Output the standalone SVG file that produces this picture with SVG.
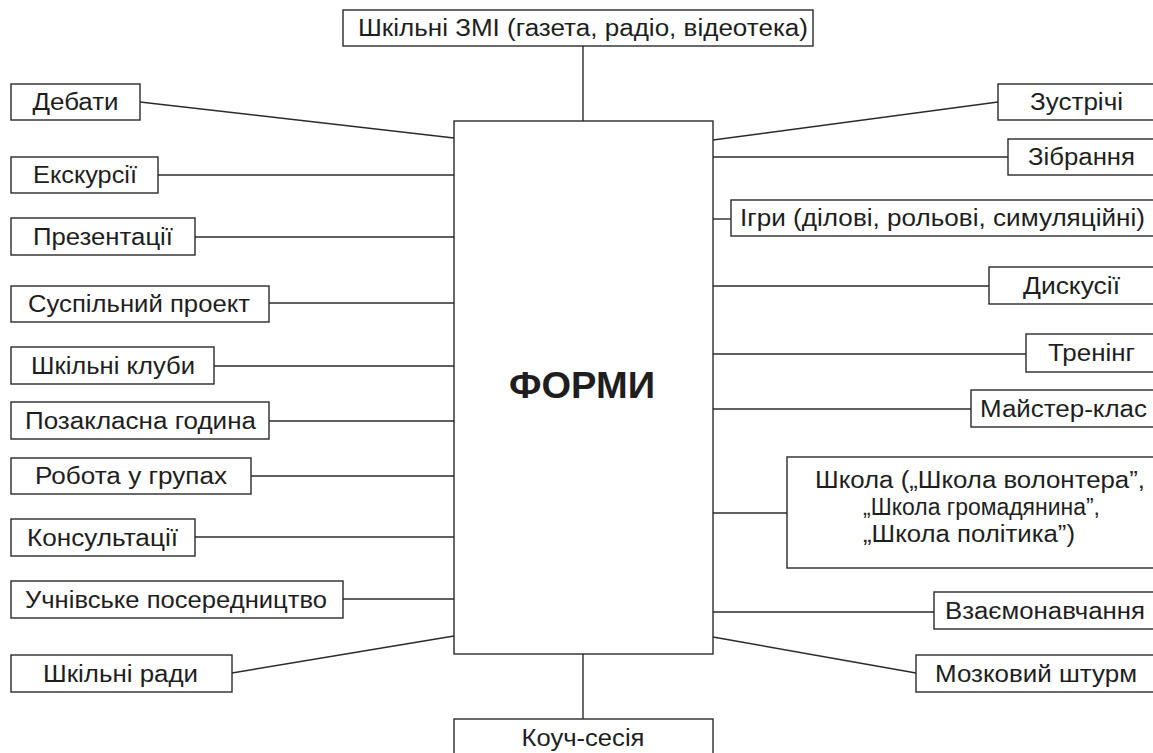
<svg xmlns="http://www.w3.org/2000/svg" width="1153" height="753" viewBox="0 0 1153 753">
<style>
rect{fill:#fff;stroke:#2a2a2a;stroke-width:1.4}
text{font-family:"Liberation Sans",Arial,sans-serif;font-size:23.5px;fill:#1e1e1e;text-anchor:middle}
.c line{stroke:#2a2a2a;stroke-width:1.4}
.big{font-size:37px;font-weight:bold}
</style>
<rect width="1153" height="753" style="fill:#fff;stroke:none"/>
<g class="c" id="connectors">
<line x1="583" y1="46" x2="583" y2="121"/>
<line x1="583" y1="654" x2="583" y2="719"/>
<line x1="140" y1="102" x2="454" y2="138"/>
<line x1="158" y1="175" x2="454" y2="175"/>
<line x1="195" y1="237" x2="454" y2="237"/>
<line x1="269" y1="303" x2="454" y2="303"/>
<line x1="214" y1="366" x2="454" y2="366"/>
<line x1="269" y1="421" x2="454" y2="421"/>
<line x1="251" y1="476" x2="454" y2="476"/>
<line x1="195" y1="537" x2="454" y2="537"/>
<line x1="343" y1="599" x2="454" y2="599"/>
<line x1="232" y1="673" x2="454" y2="636"/>
<line x1="713" y1="140" x2="998" y2="102"/>
<line x1="713" y1="157" x2="1008" y2="157"/>
<line x1="710" y1="219" x2="731" y2="219"/>
<line x1="713" y1="286" x2="989" y2="286"/>
<line x1="713" y1="354" x2="1026" y2="354"/>
<line x1="713" y1="409" x2="971" y2="409"/>
<line x1="713" y1="513" x2="787" y2="513"/>
<line x1="713" y1="612" x2="934" y2="612"/>
<line x1="713" y1="637" x2="916" y2="673"/>
</g>
<g id="center"><rect x="454" y="121" width="259" height="533"/><text class="big" x="582" y="398" textLength="146" lengthAdjust="spacingAndGlyphs">ФОРМИ</text></g>
<g id="top"><rect x="343" y="10" width="470" height="36"/><text x="583" y="36" textLength="450" lengthAdjust="spacingAndGlyphs">Шкільні ЗМІ (газета, радіо, відеотека)</text></g>
<g id="bottom"><rect x="454" y="719" width="259" height="45"/><text x="583" y="746" textLength="123" lengthAdjust="spacingAndGlyphs">Коуч-сесія</text></g>
<g id="l1"><rect x="11" y="84" width="129" height="36"/><text x="75.5" y="110" textLength="86" lengthAdjust="spacingAndGlyphs">Дебати</text></g>
<g id="l2"><rect x="11" y="157" width="147" height="36"/><text x="85" y="183" textLength="104" lengthAdjust="spacingAndGlyphs">Екскурсії</text></g>
<g id="l3"><rect x="11" y="218" width="184" height="37"/><text x="103" y="245" textLength="140" lengthAdjust="spacingAndGlyphs">Презентації</text></g>
<g id="l4"><rect x="11" y="286" width="258" height="36"/><text x="139" y="312" textLength="222" lengthAdjust="spacingAndGlyphs">Суспільний проект</text></g>
<g id="l5"><rect x="11" y="347" width="203" height="37"/><text x="113" y="374" textLength="164" lengthAdjust="spacingAndGlyphs">Шкільні клуби</text></g>
<g id="l6"><rect x="11" y="402" width="258" height="37"/><text x="140.5" y="429" textLength="231" lengthAdjust="spacingAndGlyphs">Позакласна година</text></g>
<g id="l7"><rect x="11" y="458" width="240" height="36"/><text x="131" y="484" textLength="192" lengthAdjust="spacingAndGlyphs">Робота у групах</text></g>
<g id="l8"><rect x="11" y="519" width="184" height="37"/><text x="102.5" y="546" textLength="151" lengthAdjust="spacingAndGlyphs">Консультації</text></g>
<g id="l9"><rect x="11" y="581" width="332" height="37"/><text x="176" y="608" textLength="302" lengthAdjust="spacingAndGlyphs">Учнівське посередництво</text></g>
<g id="l10"><rect x="11" y="655" width="221" height="37"/><text x="120.5" y="682" textLength="155" lengthAdjust="spacingAndGlyphs">Шкільні ради</text></g>
<g id="r1"><rect x="998" y="84" width="170" height="36"/><text x="1076.5" y="110" textLength="93" lengthAdjust="spacingAndGlyphs">Зустрічі</text></g>
<g id="r2"><rect x="1008" y="139" width="160" height="36"/><text x="1081.5" y="165" textLength="107" lengthAdjust="spacingAndGlyphs">Зібрання</text></g>
<g id="r3"><rect x="731" y="200" width="437" height="36"/><text x="942.5" y="226" textLength="405" lengthAdjust="spacingAndGlyphs">Ігри (ділові, рольові, симуляційні)</text></g>
<g id="r4"><rect x="989" y="267" width="179" height="37"/><text x="1071.5" y="294" textLength="97" lengthAdjust="spacingAndGlyphs">Дискусії</text></g>
<g id="r5"><rect x="1026" y="334" width="142" height="38"/><text x="1091.5" y="361" textLength="87" lengthAdjust="spacingAndGlyphs">Тренінг</text></g>
<g id="r6"><rect x="971" y="390" width="197" height="37"/><text x="1063.5" y="417" textLength="167" lengthAdjust="spacingAndGlyphs">Майстер-клас</text></g>
<g id="r7"><rect x="787" y="457" width="381" height="111"/><text x="980" y="488" textLength="330" lengthAdjust="spacingAndGlyphs">Школа („Школа волонтера”,</text><text x="981.5" y="515" textLength="237" lengthAdjust="spacingAndGlyphs">„Школа громадянина”,</text><text x="969" y="542" textLength="212" lengthAdjust="spacingAndGlyphs">„Школа політика”)</text></g>
<g id="r8"><rect x="934" y="592" width="234" height="37"/><text x="1045" y="619" textLength="200" lengthAdjust="spacingAndGlyphs">Взаємонавчання</text></g>
<g id="r9"><rect x="916" y="655" width="252" height="37"/><text x="1036" y="682" textLength="202" lengthAdjust="spacingAndGlyphs">Мозковий штурм</text></g>
</svg>
